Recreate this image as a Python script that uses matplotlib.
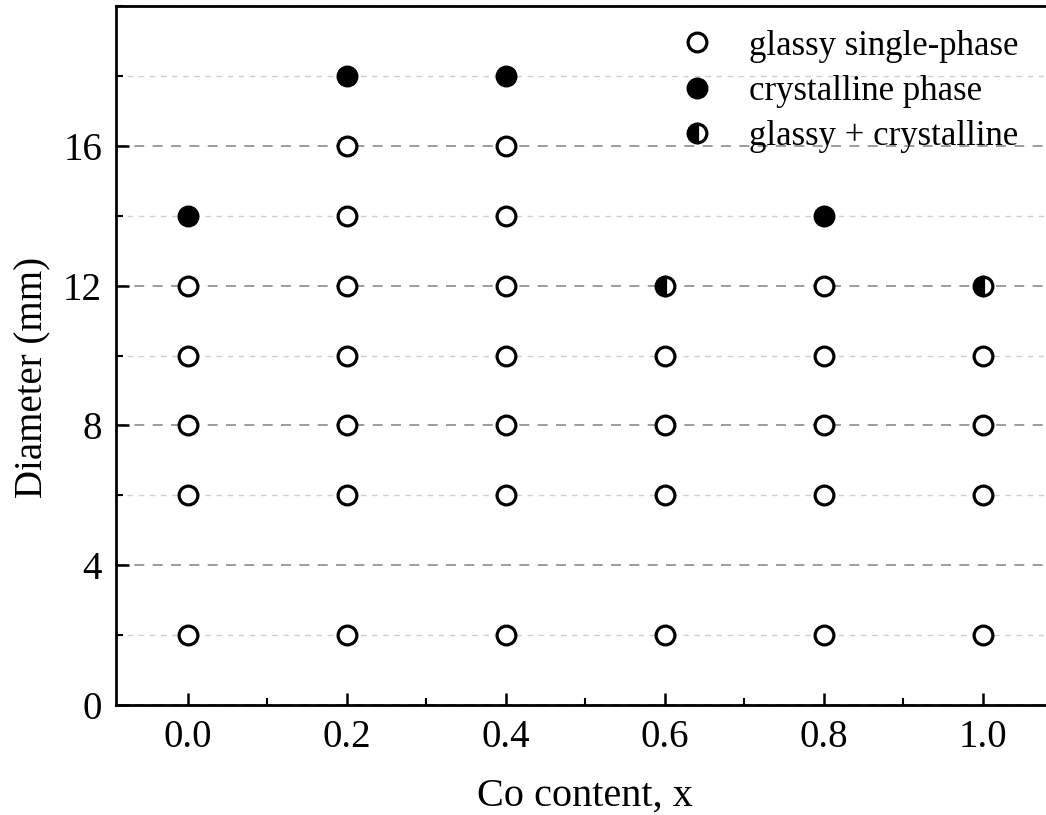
import matplotlib
matplotlib.use("Agg")
import matplotlib.pyplot as plt
from matplotlib.ticker import MultipleLocator
from matplotlib.lines import Line2D

glassy_x = [0.0]*5 + [0.2]*7 + [0.4]*7 + [0.6]*4 + [0.8]*5 + [1.0]*4
glassy_d = [2, 6, 8, 10, 12,
            2, 6, 8, 10, 12, 14, 16,
            2, 6, 8, 10, 12, 14, 16,
            2, 6, 8, 10,
            2, 6, 8, 10, 12,
            2, 6, 8, 10]
cryst_x = [0.0, 0.2, 0.4, 0.8]
cryst_d = [14, 18, 18, 14]
mixed_x = [0.6, 1.0]
mixed_d = [12, 12]

x_ticks = [0.0, 0.2, 0.4, 0.6, 0.8, 1.0]
y_ticks = [0, 4, 8, 12, 16]

plt.rcParams['font.family'] = ['Liberation Serif', 'DejaVu Serif']

fig = plt.figure(figsize=(10.46, 8.15), dpi=100)
# right spine lies just outside the picture, as in the cropped original
ax = fig.add_axes([116/1046, 110/815, (1054.6-116)/1046, (705-6)/815])

ms = 13.5
mew = 2.3
ax.plot(glassy_x, glassy_d, 'o', ms=ms, mfc='white', mec='black', mew=mew, zorder=3)
ax.plot(cryst_x, cryst_d, 'o', ms=ms, mfc='black', mec='black', mew=mew, zorder=3)
ax.plot(mixed_x, mixed_d, 'o', ms=ms, mfc='black', mec='black', mew=mew,
        fillstyle='left', markerfacecoloralt='white', zorder=3)

ax.set_xlim(-0.09, 1.09)
ax.set_ylim(0, 20)
ax.set_xticks(x_ticks)
ax.set_yticks(y_ticks)
ax.xaxis.set_minor_locator(MultipleLocator(0.1))
ax.yaxis.set_minor_locator(MultipleLocator(2))
ax.set_xticklabels([f"{v:.1f}" for v in x_ticks])

ax.tick_params(which='major', direction='in', length=9, width=1.8, labelsize=28, pad=10)
ax.tick_params(which='minor', direction='in', length=5, width=1.5)
ax.tick_params(top=False, right=False, which='both')
for s in ax.spines.values():
    s.set_linewidth(2.0)

ax.yaxis.grid(True, which='major', linestyle=(0, (6, 5)), color='#8c8c8c', linewidth=1.2)
ax.yaxis.grid(True, which='minor', linestyle=(0, (4, 4)), color='#d0d0d0', linewidth=1.0)
ax.set_axisbelow(True)

ax.set_xlabel('Co content, x', fontsize=29, labelpad=16)
ax.set_ylabel('Diameter (mm)', fontsize=28)
ax.yaxis.set_label_coords(-0.069, 0.468)

handles = [
    Line2D([], [], ls='none', marker='o', ms=ms, mfc='white', mec='black', mew=mew),
    Line2D([], [], ls='none', marker='o', ms=ms, mfc='black', mec='black', mew=mew),
    Line2D([], [], ls='none', marker='o', ms=ms, mfc='black', mec='black', mew=mew,
           fillstyle='left', markerfacecoloralt='white'),
]
labels = ['glassy single-phase', 'crystalline phase', 'glassy + crystalline']
ax.legend(handles, labels, loc='upper right', bbox_to_anchor=(0.995, 1.011), frameon=False,
          fontsize=25, handletextpad=0.75, labelspacing=0.35, handlelength=1.5)

fig.savefig('out.png', dpi=100)
